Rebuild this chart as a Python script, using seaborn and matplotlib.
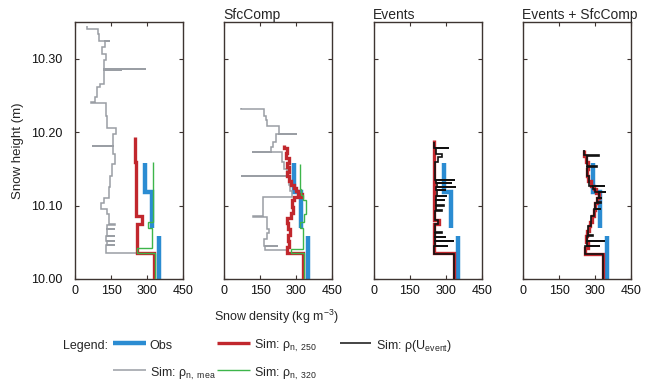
import numpy as np
import matplotlib
matplotlib.use('Agg')
import matplotlib.pyplot as plt
from matplotlib.lines import Line2D
import seaborn as sns

# ---- data: layer boundaries (m) and layer densities (kg m-3) ----
obs_h = [10.000, 10.058, 10.069, 10.118, 10.158]
obs_rho = [350, np.nan, 320, 290]

# panel 1 (reference)
gray1_h = [10.000, 10.036, 10.046, 10.0464, 10.052, 10.0524, 10.058, 10.0584, 10.068, 10.0684,
           10.074, 10.0744, 10.088, 10.095, 10.104, 10.110, 10.125, 10.140, 10.157, 10.170,
           10.181, 10.1814, 10.198, 10.206, 10.222, 10.240, 10.2404, 10.248, 10.262, 10.266,
           10.284, 10.2844, 10.286, 10.2864, 10.298, 10.307, 10.316, 10.324, 10.3244, 10.334,
           10.341, 10.344]
gray1_rho = [330, 130, 168, 135, 168, 130, 165, 132, 168, 135,
             168, 140, 135, 108, 120, 140, 147, 154, 168, 158,
             70, 160, 172, 133, 128, 66, 85, 92, 105, 119,
             196, 119, 294, 119, 128, 112, 124, 147, 102, 94,
             52]
red1_h = [10.000, 10.035, 10.075, 10.086, 10.120, 10.160, 10.193]
red1_rho = [330, 257, 278, 256, 254, 250]
green1_h = [10.000, 10.035, 10.042, 10.069, 10.077, 10.159]
green1_rho = [332, 258, 322, 306, 324]

# panel 2 (SfcComp)
gray2_h = [10.000, 10.036, 10.039, 10.045, 10.0454, 10.055, 10.062, 10.068, 10.074, 10.085,
           10.0854, 10.112, 10.120, 10.128, 10.140, 10.1404, 10.150, 10.160, 10.173, 10.1734,
           10.180, 10.187, 10.197, 10.1974, 10.209, 10.216, 10.222, 10.232, 10.2324]
gray2_rho = [330, 262, 172, 225, 168, 180, 188, 178, 180, 122,
             164, 285, 275, 270, 72, 262, 250, 240, 118, 194,
             206, 215, 303, 229, 180, 175, 167, 72]
red2_h = [10.000, 10.036, 10.044, 10.052, 10.060, 10.068, 10.076, 10.083, 10.090, 10.098,
          10.108, 10.112, 10.116, 10.120, 10.124, 10.128, 10.133, 10.140, 10.146, 10.152,
          10.158, 10.165, 10.172, 10.178, 10.183]
red2_rho = [330, 262, 270, 265, 275, 268, 262, 278, 289, 284,
            292, 325, 310, 300, 290, 280, 270, 262, 272, 262,
            270, 258, 262, 252]
green2_h = [10.000, 10.036, 10.041, 10.070, 10.078, 10.088, 10.108, 10.114, 10.122, 10.140, 10.157]
green2_rho = [333, 278, 330, 318, 332, 342, 330, 322, 318, 315]

# panel 3 (Events)
red3_h = [10.000, 10.035, 10.075, 10.081, 10.189]
red3_rho = [333, 252, 272, 250]
black3_h = [10.000, 10.034, 10.045, 10.0454, 10.052, 10.0524, 10.057, 10.0574, 10.063, 10.0634,
            10.075, 10.081, 10.093, 10.0934, 10.100, 10.1004, 10.107, 10.1074, 10.113, 10.1134,
            10.121, 10.1214, 10.125, 10.1254, 10.131, 10.1314, 10.135, 10.1354, 10.160, 10.166,
            10.170, 10.178, 10.1784, 10.187]
black3_rho = [333, 252, 308, 255, 333, 256, 300, 255, 285, 254,
              268, 256, 285, 258, 292, 258, 295, 260, 303, 262,
              300, 258, 340, 262, 326, 260, 336, 255, 268, 283,
              258, 312, 252]

# panel 4 (Events + SfcComp)
red4_h = [10.000, 10.034, 10.042, 10.050, 10.058, 10.066, 10.072, 10.078, 10.086, 10.094,
          10.103, 10.110, 10.117, 10.122, 10.127, 10.134, 10.140, 10.150, 10.160, 10.167, 10.175]
red4_rho = [333, 258, 270, 262, 268, 275, 280, 286, 294, 302,
            308, 316, 305, 295, 285, 272, 266, 270, 262, 253]
black4_h = [10.000, 10.034, 10.045, 10.0454, 10.052, 10.0524, 10.059, 10.0594, 10.072, 10.086,
            10.095, 10.0954, 10.104, 10.1044, 10.110, 10.1104, 10.118, 10.1184, 10.122, 10.126,
            10.1264, 10.140, 10.153, 10.1534, 10.168, 10.1684, 10.175]
black4_rho = [333, 260, 320, 265, 340, 266, 290, 272, 284, 294,
              326, 302, 325, 308, 330, 318, 347, 300, 292, 340,
              275, 266, 308, 265, 317, 255]

titles = ['', 'SfcComp', 'Events', 'Events + SfcComp']
x_ticks = [0, 150, 300, 450]
y_ticks = [10.00, 10.10, 10.20, 10.30]

C_OBS = '#2b8cd2'
C_RED = '#c1272d'
C_GREEN = '#3db54a'
C_GRAY = '#9a9ea4'
C_BLACK = '#111111'
C_AX = '#3d3431'

sns.set_style('ticks')
plt.rcParams['font.family'] = ['Liberation Sans', 'DejaVu Sans']
plt.rcParams['mathtext.fontset'] = 'custom'
plt.rcParams['mathtext.rm'] = 'Liberation Sans'
plt.rcParams['mathtext.it'] = 'Liberation Sans:italic'


def steps(h, rho):
    h = np.asarray(h, float)
    rho = np.asarray(rho, float)
    return np.repeat(rho, 2), np.repeat(h, 2)[1:-1]


def draw(ax, h, rho, color, lw, z):
    x, y = steps(h, rho)
    ok = np.isfinite(x)
    run = np.cumsum(~ok)
    for r in np.unique(run[ok]):
        m = ok & (run == r)
        sns.lineplot(x=x[m], y=y[m], sort=False, estimator=None, color=color, lw=lw,
                     ax=ax, zorder=z, legend=False, solid_capstyle='butt',
                     solid_joinstyle='miter')


fig = plt.figure(figsize=(6.51, 3.85), dpi=100)
lefts = [75, 224, 374, 523]
axes = []
for l in lefts:
    axes.append(fig.add_axes([l / 651, 1 - 279 / 385, 108 / 651, 257 / 385]))

profiles = [
    [(gray1_h, gray1_rho, C_GRAY, 1.1, 3), (red1_h, red1_rho, C_RED, 2.4, 4), (green1_h, green1_rho, C_GREEN, 1.0, 5)],
    [(gray2_h, gray2_rho, C_GRAY, 1.1, 3), (red2_h, red2_rho, C_RED, 2.4, 4), (green2_h, green2_rho, C_GREEN, 1.0, 5)],
    [(red3_h, red3_rho, C_RED, 2.4, 4), (black3_h, black3_rho, C_BLACK, 1.2, 6)],
    [(red4_h, red4_rho, C_RED, 2.4, 4), (black4_h, black4_rho, C_BLACK, 1.2, 6)],
]

for i, ax in enumerate(axes):
    draw(ax, obs_h, obs_rho, C_OBS, 3.2, 2)
    for h, rho, c, lw, z in profiles[i]:
        draw(ax, h, rho, c, lw, z)
    ax.set_xlim(0, 450)
    ax.set_ylim(10.0, 10.35)
    ax.set_xticks(x_ticks)
    ax.set_yticks(y_ticks)
    ax.set_xlabel('')
    ax.set_ylabel('')
    for s in ax.spines.values():
        s.set_visible(True)
        s.set_color(C_AX)
        s.set_linewidth(1.0)
    ax.tick_params(direction='in', length=3, width=0.8, color=C_AX,
                   top=True, right=True, labelsize=9, pad=4, labelcolor='#111111')
    ax.tick_params(axis='y', pad=9)
    if i == 0:
        ax.set_yticklabels([f'{v:.2f}' for v in y_ticks])
        ax.set_ylabel('Snow height (m)', fontsize=9.5, labelpad=5)
    else:
        ax.set_yticklabels([])
    if titles[i]:
        ax.set_title(titles[i], loc='left', fontsize=10, pad=2, x=-0.01)

fig.text(276 / 651, 1 - 317 / 385, 'Snow density (kg m$^{-3}$)', ha='center', va='center', fontsize=9)

# legend laid out by hand
fig.text(63 / 651, 1 - 349 / 385, 'Legend:', fontsize=9, va='baseline')
items = [
    (113, 146, 343, 149, 349, C_OBS, 3.2, 'Obs'),
    (113, 146, 370, 150, 377, C_GRAY, 1.1, 'Sim: ρ$_{\\mathrm{n,\\ mea}}$'),
    (217, 250, 343, 254, 349, C_RED, 2.4, 'Sim: ρ$_{\\mathrm{n,\\ 250}}$'),
    (217, 250, 370, 254, 377, C_GREEN, 1.0, 'Sim: ρ$_{\\mathrm{n,\\ 320}}$'),
    (340, 371, 343, 376, 349, C_BLACK, 1.1, 'Sim: ρ(U$_{\\mathrm{event}}$)'),
]
for x0, x1, yl, xt, yt, c, lw, lab in items:
    fig.add_artist(Line2D([x0 / 651, x1 / 651], [1 - yl / 385, 1 - yl / 385],
                          transform=fig.transFigure, color=c, lw=lw, solid_capstyle='butt'))
    fig.text(xt / 651, 1 - yt / 385, lab, fontsize=9, va='baseline')

fig.savefig('out.png', dpi=100)
